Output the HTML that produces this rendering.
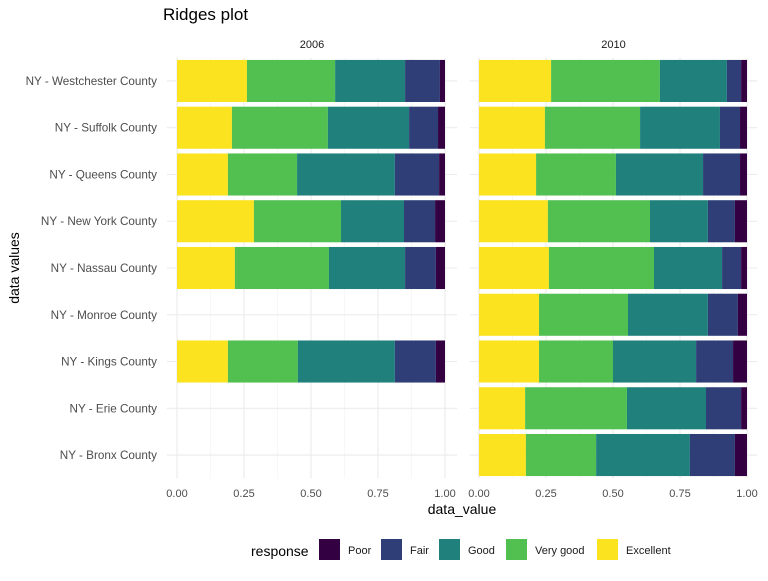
<!DOCTYPE html>
<html><head><meta charset="utf-8"><style>
body{margin:0;background:#fff;font-family:"Liberation Sans",sans-serif}
</style></head><body>
<svg id="c" width="768" height="576" xmlns="http://www.w3.org/2000/svg">
<text x="163" y="20" font-size="17" fill="#000">Ridges plot</text>
<text x="462" y="514" font-size="14" text-anchor="middle" fill="#000">data_value</text>
<text transform="translate(19,268) rotate(-90)" font-size="14" text-anchor="middle" fill="#000">data values</text>
<g id="legend">
<text x="251" y="556" font-size="14" fill="#000">response</text>
</g>
</svg>
<script>
const counties=["NY - Bronx County","NY - Erie County","NY - Kings County","NY - Monroe County","NY - Nassau County","NY - New York County","NY - Queens County","NY - Suffolk County","NY - Westchester County"];
const responses=["Poor","Fair","Good","Very good","Excellent"];
const years=["2006","2010"];
const xTicks=[0,0.25,0.5,0.75,1];
const xTickLabels=["0.00","0.25","0.50","0.75","1.00"];
// values per county: [Poor, Fair, Good, Very good, Excellent]; null = missing
const values2006=[null,null,[.034,.153,.362,.261,.19],null,[.034,.115,.284,.351,.216],[.037,.116,.235,.325,.287],[.022,.165,.365,.258,.19],[.026,.108,.303,.358,.205],[.019,.130,.261,.329,.261]];
const values2010=[[.045,.168,.35,.262,.175],[.022,.131,.295,.38,.172],[.052,.138,.31,.276,.224],[.034,.112,.298,.332,.224],[.022,.071,.254,.392,.261],[.045,.101,.216,.381,.257],[.026,.138,.325,.298,.213],[.026,.075,.298,.355,.246],[.022,.053,.25,.406,.269]];
const colors=["#330042","#2f3e77","#20807c","#51c050","#fbe31f"];
const NS="http://www.w3.org/2000/svg";
const svg=document.getElementById('c');
function mk(t,a,p){const e=document.createElementNS(NS,t);for(const k in a)e.setAttribute(k,a[k]);(p||svg).appendChild(e);return e;}
const panels=[{x0:177,x1:445,gl:167,gr:457,data:values2006},{x0:479,x1:747,gl:470,gr:757,data:values2010}];
const yTop=57.6,yBot=478.4,band=(yBot-yTop)/counties.length;
function yC(i){return yBot-band*(i+0.5);}
panels.forEach((p,pi)=>{
  const sx=v=>p.x0+v*(p.x1-p.x0);
  const g=mk('g',{});
  
  
  for(let m=0.125;m<1.2;m+=0.25){const l=mk('line',{x1:sx(m),x2:sx(m),y1:yTop,y2:yBot,stroke:'#f2f2f2','stroke-width':0.6},g);}
  xTicks.forEach((t,i)=>{
    const l=mk('line',{x1:sx(t),x2:sx(t),y1:yTop,y2:yBot,stroke:'#ebebeb','stroke-width':1.1},g);
    
    
    const tx=mk('text',{x:sx(t),y:497,'font-size':11,'text-anchor':'middle',fill:'#4d4d4d'},g);
    tx.textContent=xTickLabels[i];
    
    
  });
  counties.forEach((c,i)=>{
    const l=mk('line',{x1:p.gl,x2:p.gr,y1:yC(i),y2:yC(i),stroke:'#ebebeb','stroke-width':1.1},g);
    
    
  });
  const st=mk('text',{x:(p.gl+p.gr)/2,y:48,'font-size':11,'text-anchor':'middle',fill:'#1a1a1a'},g);
  st.textContent=years[pi];
  
  
  p.data.forEach((row,i)=>{
    if(!row)return;
    let cum=0;
    for(let k=responses.length-1;k>=0;k--){
      const r=mk('rect',{x:sx(cum),y:yC(i)-band*0.45,width:sx(cum+row[k])-sx(cum),height:band*0.9,fill:colors[k]},g);
      
      
      cum+=row[k];
    }
  });
});
counties.forEach((c,i)=>{
  const t=mk('text',{x:157,y:yC(i)+4,'font-size':11.7,'text-anchor':'end',fill:'#4d4d4d'});
  t.textContent=c;
  
  
});
const lg=document.getElementById('legend');
const sw=[319,381,439,506,597];
responses.forEach((r,k)=>{
  const s=mk('rect',{x:sw[k],y:539,width:21,height:21,fill:colors[k]},lg);
  
  
  const t=mk('text',{x:sw[k]+29,y:554,'font-size':11,fill:'#1a1a1a'},lg);
  t.textContent=r;
  
  
});
</script>
</body></html>
